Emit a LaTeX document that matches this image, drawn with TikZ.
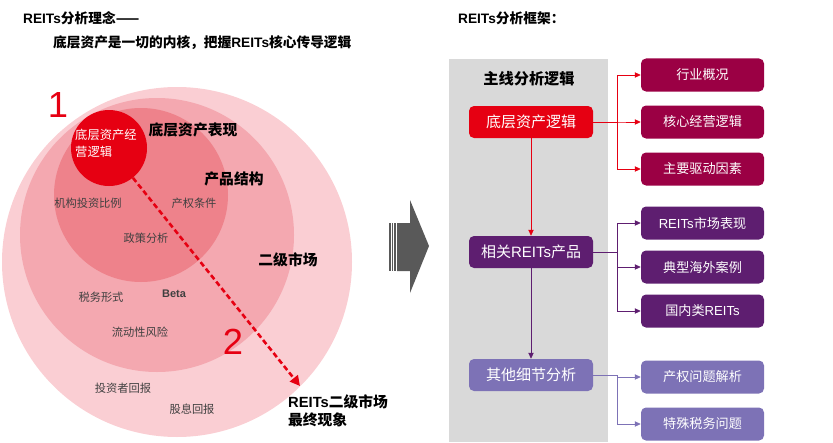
\documentclass[tikz,border=0pt]{standalone}
\usepackage{fontspec}
\setmainfont{Noto Sans CJK SC}
\newfontfamily\arialish{Liberation Sans}
\newcommand\lsf[1]{{\arialish #1}}
\usepackage{xcolor}
\definecolor{rtred}{RGB}{230,0,18}
\definecolor{rtring}{RGB}{250,206,211}
\definecolor{rtmid}{RGB}{244,168,176}
\definecolor{rtinner}{RGB}{238,130,139}
\definecolor{rtmag}{RGB}{155,0,68}
\definecolor{rtpurple}{RGB}{94,30,112}
\definecolor{rtlilac}{RGB}{125,114,182}
\definecolor{rtgray}{RGB}{217,217,217}
\definecolor{rtarrow}{RGB}{89,89,89}
\definecolor{rttext}{RGB}{64,64,64}
\usepackage{tikz}
\usetikzlibrary{arrows.meta, positioning, calc}

\begin{document}
\begin{tikzpicture}[x=0.3mm, y=-0.3mm,
  mainbox/.style={rounded corners=1.5mm, minimum width=37.2mm, minimum height=9.6mm, inner sep=0pt, text=white, font=\fontsize{12.8}{15}\selectfont},
  subbox/.style={rounded corners=1.5mm, minimum width=36.9mm, minimum height=9.9mm, inner sep=0pt, text=white, font=\fontsize{11.2}{13}\selectfont},
  link/.style={line width=0.6pt, -{Triangle[length=1.8mm,width=1.6mm]}},
  tag/.style={text=rttext, font=\fontsize{9.6}{11}\selectfont},
  head/.style={text=black, font=\bfseries\fontsize{12.6}{15.4}\selectfont},
  toptitle/.style={text=black, anchor=west, font=\bfseries\fontsize{11.7}{14}\selectfont},
  bignum/.style={text=rtred, font=\arialish\fontsize{31}{31}\selectfont}]
  \useasboundingbox (0,0) rectangle (833,442);

  % Titles
  \node[toptitle] (ltitle) at (19,18) {\lsf{REITs}分析理念——};
  \node[toptitle] (lsub) at (49,43) {底层资产是一切的内核，把握\lsf{REITs}核心传导逻辑};
  \node[toptitle] (rtitle) at (454,18) {\lsf{REITs}分析框架：};

  % Nested circles
  \fill[rtring] (177,262) circle[radius=175];
  \fill[rtmid] (157,235) circle[radius=137];
  \fill[rtinner] (141,195) circle[radius=87];
  \node[circle, fill=rtred, minimum size=22.8mm, inner sep=0pt] (core) at (109,148) {};
  \node[align=left, text=white, font=\fontsize{10.5}{14.5}\selectfont] (coretext) at (106,143) {底层资产经\\营逻辑};

  % Circle labels
  \node[bignum] (one) at (58,105) {1};
  \node[bignum] (two) at (233,342) {2};
  \node[head] (assets) at (193,130) {底层资产表现};
  \node[head] (struct) at (234,179) {产品结构};
  \node[head] (second) at (288,260) {二级市场};
  \node[tag] (inst) at (88,203) {机构投资比例};
  \node[tag] (title) at (194,203) {产权条件};
  \node[tag] (policy) at (146,238) {政策分析};
  \node[tag] (taxform) at (101,297) {税务形式};
  \node[text=rttext, font=\arialish\bfseries\fontsize{9.4}{11}\selectfont] (beta) at (174,294) {Beta};
  \node[tag] (liq) at (140,332) {流动性风险};
  \node[tag] (inv) at (123,388) {投资者回报};
  \node[tag] (div) at (192,409) {股息回报};
  \node[head, align=left, anchor=west] (final) at (284,411) {\lsf{REITs}二级市场\\最终现象};

  % Dashed transmission arrow
  \coordinate (mktend) at (300,386);
  \draw[rtred, line width=2.2pt, dash pattern=on 4.5pt off 2.6pt, -{Triangle[length=3mm,width=3mm]}] (core) -- (mktend);

  % Big gray arrow
  \fill[rtarrow] (397,223) -- (410,223) -- (410,200) -- (429,246) -- (410,293) -- (410,271) -- (397,271) -- cycle;
  \fill[rtarrow] (389.3,223) rectangle (390.7,271);
  \fill[rtarrow] (391.8,223) rectangle (393,271);
  \fill[rtarrow] (394,223) rectangle (396,271);

  % Main line panel
  \fill[rtgray] (449,59) rectangle (608,442);
  \node[text=black, font=\bfseries\fontsize{13}{15}\selectfont] (mainline) at (529,79) {主线分析逻辑};
  \node[mainbox, fill=rtred] (base) at (531,122) {底层资产逻辑};
  \node[mainbox, fill=rtpurple] (prod) at (531,252) {相关\lsf{REITs}产品};
  \node[mainbox, fill=rtlilac] (other) at (531,375) {其他细节分析};

  % Branch boxes
  \node[subbox, fill=rtmag] (ind) at (702.5,75) {行业概况};
  \node[subbox, fill=rtmag] (ops) at (702.5,122) {核心经营逻辑};
  \node[subbox, fill=rtmag] (drv) at (702.5,169) {主要驱动因素};
  \node[subbox, fill=rtpurple] (mkt) at (702.5,223) {\lsf{REITs}市场表现};
  \node[subbox, fill=rtpurple] (cases) at (702.5,267) {典型海外案例};
  \node[subbox, fill=rtpurple] (dom) at (702.5,311) {国内类\lsf{REITs}};
  \node[subbox, fill=rtlilac] (prop) at (702.5,377) {产权问题解析};
  \node[subbox, fill=rtlilac] (tax) at (702.5,424) {特殊税务问题};

  % Connectors
  \draw[link, rtred] (base) -- (prod);
  \draw[link, rtpurple] (prod) -- (other);
  \foreach \t in {ind,ops,drv}
    \draw[link, rtred] (base.east) -- ++(24,0) |- (\t.west);
  \foreach \t in {mkt,cases,dom}
    \draw[link, rtpurple] (prod.east) -- ++(24,0) |- (\t.west);
  \foreach \t in {prop,tax}
    \draw[link, rtlilac] (other.east) -- ++(24,0) |- (\t.west);
\end{tikzpicture}
\end{document}
